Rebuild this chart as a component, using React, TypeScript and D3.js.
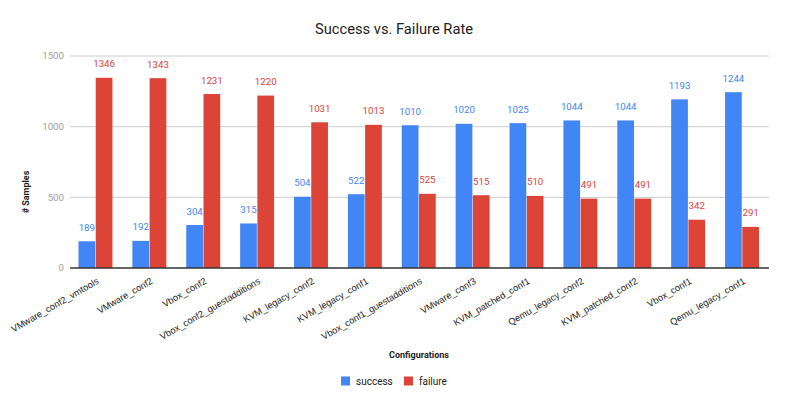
import React, { useEffect, useRef } from 'react';
import * as d3 from 'd3';

const configurations = [
  'VMware_conf2_vmtools',
  'VMware_conf2',
  'Vbox_conf2',
  'Vbox_conf2_guestadditions',
  'KVM_legacy_conf2',
  'KVM_legacy_conf1',
  'Vbox_conf1_guestadditions',
  'VMware_conf3',
  'KVM_patched_conf1',
  'Qemu_legacy_conf2',
  'KVM_patched_conf2',
  'Vbox_conf1',
  'Qemu_legacy_conf1',
];
const success = [189, 192, 304, 315, 504, 522, 1010, 1020, 1025, 1044, 1044, 1193, 1244];
const failure = [1346, 1343, 1231, 1220, 1031, 1013, 525, 515, 510, 491, 491, 342, 291];
const seriesNames = ['success', 'failure'];
const seriesColors = ['#4285f4', '#db4437'];
const yTicks = [0, 500, 1000, 1500];

const W = 789;
const H = 407;

const App: React.FC = () => {
  const ref = useRef<SVGSVGElement>(null);

  useEffect(() => {
    if (!ref.current) return;
    const svg = d3.select(ref.current);
    svg.selectAll('*').remove();

    const font = 'Roboto, Arial, sans-serif';
    const labelFont = '"Liberation Sans", Arial, sans-serif';
    const plotLeft = 70;
    const plotRight = 769;

    const x = d3.scaleBand<string>()
      .domain(configurations)
      .range([78.5, 759])
      .paddingInner(0.37)
      .paddingOuter(0);
    const x1 = d3.scaleBand<string>()
      .domain(seriesNames)
      .range([0, x.bandwidth()])
      .paddingInner(0.03);
    const y = d3.scaleLinear().domain([0, 1500]).range([268, 56]);

    // title
    svg.append('text')
      .attr('x', 394).attr('y', 34)
      .attr('text-anchor', 'middle')
      .style('font-family', font).style('font-size', '14.7px').style('fill', '#222')
      .text('Success vs. Failure Rate');

    // gridlines + ticks
    const grid = svg.append('g');
    yTicks.forEach((t) => {
      if (t !== 0) {
        grid.append('line')
          .attr('x1', plotLeft).attr('x2', plotRight)
          .attr('y1', y(t)).attr('y2', y(t))
          .attr('stroke', '#cccccc').attr('stroke-width', 1);
      }
      grid.append('text')
        .attr('x', 64).attr('y', y(t)).attr('dy', '0.35em')
        .attr('text-anchor', 'end')
        .style('font-family', font).style('font-size', '9.7px').style('fill', '#9e9e9e')
        .text(t);
    });

    const series = [success, failure];
    const groups = svg.append('g');
    configurations.forEach((c, i) => {
      const g = groups.append('g').attr('transform', `translate(${x(c)},0)`);
      series.forEach((vals, s) => {
        const v = vals[i];
        const bx = x1(seriesNames[s]) as number;
        g.append('rect')
          .attr('x', bx).attr('width', x1.bandwidth())
          .attr('y', y(v)).attr('height', y(0) - y(v))
          .attr('fill', seriesColors[s]);
        g.append('text')
          .attr('x', bx + x1.bandwidth() / 2).attr('y', y(v) - 10.5)
          .attr('text-anchor', 'middle')
          .style('font-family', font).style('font-size', '9.7px')
          .style('fill', seriesColors[s])
          .text(v);
      });
    });

    // baseline
    svg.append('line')
      .attr('x1', plotLeft).attr('x2', plotRight)
      .attr('y1', y(0)).attr('y2', y(0))
      .attr('stroke', '#333').attr('stroke-width', 1.3);

    // x labels
    configurations.forEach((c) => {
      const cx = (x(c) as number) + x.bandwidth() / 2 + 4;
      svg.append('text')
        .attr('transform', `translate(${cx},283) rotate(-30)`)
        .attr('text-anchor', 'end')
        .style('font-family', labelFont).style('font-size', '9.3px').style('fill', '#222')
        .text(c);
    });

    // axis titles
    svg.append('text')
      .attr('x', 419).attr('y', 358)
      .attr('text-anchor', 'middle')
      .style('font-family', font).style('font-size', '9px').style('font-weight', 'bold')
      .style('fill', '#222')
      .text('Configurations');
    svg.append('text')
      .attr('transform', `translate(29,192) rotate(-90)`)
      .attr('text-anchor', 'middle')
      .style('font-family', font).style('font-size', '9px').style('font-weight', 'bold')
      .style('fill', '#222')
      .text('# Samples');

    // legend
    const legendX = [341, 404];
    seriesNames.forEach((n, s) => {
      svg.append('rect')
        .attr('x', legendX[s]).attr('y', 376.5)
        .attr('width', 9).attr('height', 9)
        .attr('fill', seriesColors[s]);
      svg.append('text')
        .attr('x', legendX[s] + 15).attr('y', 381).attr('dy', '0.35em')
        .style('font-family', font).style('font-size', '10px').style('fill', '#222')
        .text(n);
    });
  }, []);

  return <svg ref={ref} width={W} height={H} style={{ display: 'block', position: 'absolute', left: 0, top: 0, background: '#fff' }} />;
};

export default App;
